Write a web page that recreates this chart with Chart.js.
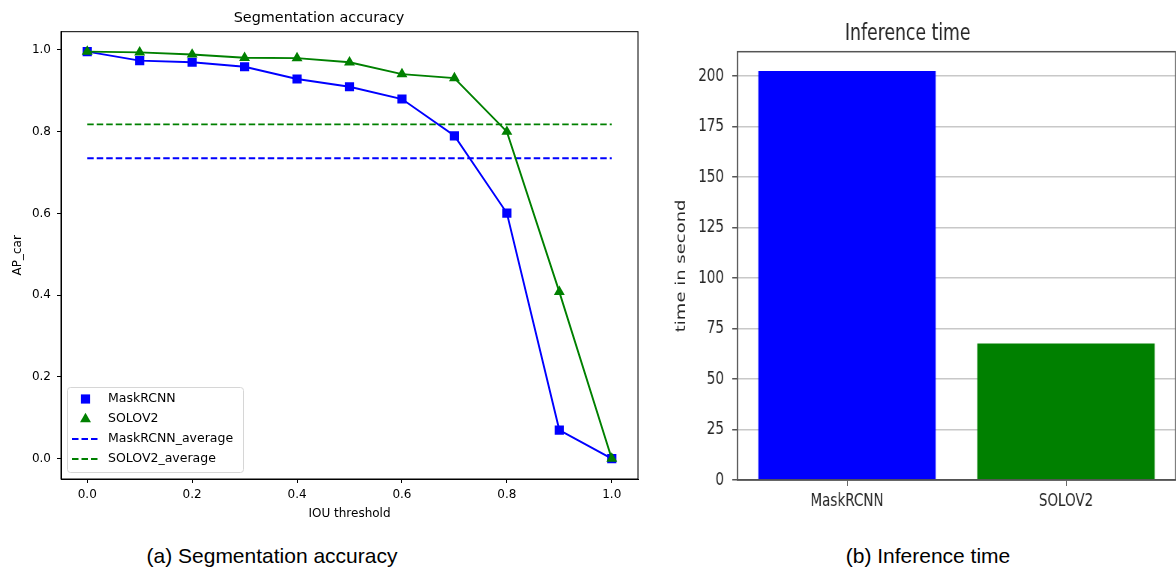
<!DOCTYPE html>
<html>
<head>
<meta charset="utf-8">
<script src="https://cdn.jsdelivr.net/npm/chart.js@4.4.0/dist/chart.umd.min.js"></script>
<style>
  html, body { margin: 0; padding: 0; background: #fff; overflow: hidden; }
  body { width: 1176px; height: 569px; position: relative; }
  #accWrap { position: absolute; left: 0; top: 0; }
  #timeWrap { position: absolute; left: 640px; top: 0; transform: scaleX(0.75); transform-origin: 0 0; }
  .caption {
    position: absolute; top: 544px; line-height: 24px;
    font-family: 'Liberation Sans', Arial, sans-serif; font-size: 21px; color: #000;
    transform: translateX(-50%); white-space: nowrap;
  }
</style>
</head>
<body>
<div id="accWrap"><canvas id="accChart" width="660" height="530"></canvas></div>
<div id="timeWrap"><canvas id="timeChart" width="730" height="530"></canvas></div>
<div class="caption" style="left:272px">(a) Segmentation accuracy</div>
<div class="caption" style="left:928px">(b) Inference time</div>
<script>
// Left chart data
const iouThresholds = [0.0, 0.1, 0.2, 0.3, 0.4, 0.5, 0.6, 0.7, 0.8, 0.9, 1.0];
const maskrcnnAP = [0.996, 0.974, 0.970, 0.959, 0.929, 0.910, 0.880, 0.790, 0.601, 0.070, 0.0];
const solov2AP = [0.996, 0.994, 0.989, 0.981, 0.980, 0.970, 0.941, 0.931, 0.800, 0.408, 0.0];
const maskrcnnAvg = 0.735;
const solov2Avg = 0.818;
const accTicks = [0.0, 0.2, 0.4, 0.6, 0.8, 1.0];

// Right chart data
const models = ['MaskRCNN', 'SOLOV2'];
const inferenceTime = [202.5, 67.6];
const timeTicks = [0, 25, 50, 75, 100, 125, 150, 175, 200];

const FONT = "'DejaVu Sans', sans-serif";

function pairs(xs, ys) {
  return xs.map((x, i) => ({ x: x, y: ys[i] }));
}

// box round the plot area
function framePlugin(color, width) {
  return {
    id: 'frame',
    afterDraw(chart) {
      const a = chart.chartArea, ctx = chart.ctx;
      ctx.save();
      ctx.strokeStyle = color;
      ctx.lineWidth = width;
      ctx.strokeRect(a.left, a.top, a.right - a.left, a.bottom - a.top);
      ctx.restore();
    }
  };
}

// matplotlib style legend inside the lower left corner
const accLegend = {
  id: 'accLegend',
  afterDraw(chart) {
    const ctx = chart.ctx, a = chart.chartArea;
    const x0 = a.left + 6, y0 = a.bottom - 92, w = 176, h = 85;
    ctx.save();
    ctx.fillStyle = 'rgba(255,255,255,0.8)';
    ctx.strokeStyle = '#d6d6d6';
    ctx.lineWidth = 1;
    ctx.beginPath();
    ctx.roundRect(x0 + 0.5, y0 + 0.5, w, h, 3);
    ctx.fill();
    ctx.stroke();
    chart.data.datasets.forEach((ds, i) => {
      const y = y0 + 12 + i * 20;
      if (ds.borderDash) {
        ctx.setLineDash(ds.borderDash);
        ctx.strokeStyle = ds.borderColor;
        ctx.lineWidth = ds.borderWidth;
        ctx.beginPath();
        ctx.moveTo(x0 + 5, y);
        ctx.lineTo(x0 + 32, y);
        ctx.stroke();
        ctx.setLineDash([]);
      } else {
        ctx.fillStyle = ds.pointBackgroundColor;
        Chart.helpers.drawPoint(ctx, { pointStyle: ds.pointStyle, radius: ds.pointRadius, rotation: 0, borderWidth: 0 }, x0 + 18.5, y);
      }
      ctx.fillStyle = '#000';
      ctx.font = '12.5px ' + FONT;
      ctx.textBaseline = 'middle';
      ctx.textAlign = 'left';
      ctx.fillText(ds.label, x0 + 41, y);
    });
    ctx.restore();
  }
};

new Chart(document.getElementById('accChart'), {
  type: 'line',
  data: {
    datasets: [
      {
        label: 'MaskRCNN',
        data: pairs(iouThresholds, maskrcnnAP),
        borderColor: '#0000ff', backgroundColor: '#0000ff',
        pointBackgroundColor: '#0000ff', pointBorderWidth: 0,
        borderWidth: 1.9, pointStyle: 'rect', pointRadius: 6.5,
        order: 1
      },
      {
        label: 'SOLOV2',
        data: pairs(iouThresholds, solov2AP),
        borderColor: '#008000', backgroundColor: '#008000',
        pointBackgroundColor: '#008000', pointBorderWidth: 0,
        borderWidth: 1.9, pointStyle: 'triangle', pointRadius: 6.3,
        order: 0
      },
      {
        label: 'MaskRCNN_average',
        data: [{ x: iouThresholds[0], y: maskrcnnAvg }, { x: iouThresholds[iouThresholds.length - 1], y: maskrcnnAvg }],
        borderColor: '#0000ff', borderWidth: 1.9, borderDash: [6.5, 3],
        pointRadius: 0, order: 2
      },
      {
        label: 'SOLOV2_average',
        data: [{ x: iouThresholds[0], y: solov2Avg }, { x: iouThresholds[iouThresholds.length - 1], y: solov2Avg }],
        borderColor: '#008000', borderWidth: 1.9, borderDash: [6.5, 3],
        pointRadius: 0, order: 3
      }
    ]
  },
  options: {
    responsive: false,
    animation: false,
    layout: { padding: { right: 22 } },
    plugins: {
      legend: { display: false },
      tooltip: { enabled: false },
      title: {
        display: true, text: 'Segmentation accuracy', color: '#000',
        font: { family: FONT, size: 14.4, weight: 'normal' },
        padding: { top: 10, bottom: 4.4 }
      }
    },
    scales: {
      x: {
        type: 'linear', min: -0.05, max: 1.05,
        afterBuildTicks: s => { s.ticks = accTicks.map(v => ({ value: v })); },
        afterFit: s => { s.height = 51; },
        grid: { drawOnChartArea: false, color: '#000', tickLength: 4 },
        border: { color: '#000' },
        ticks: { color: '#000', font: { family: FONT, size: 12 }, padding: 5, callback: v => v.toFixed(1) },
        title: { display: true, text: 'IOU threshold', color: '#000', font: { family: FONT, size: 12 }, padding: { bottom: 8.5 } }
      },
      y: {
        min: -0.04975, max: 1.04475,
        afterBuildTicks: s => { s.ticks = accTicks.map(v => ({ value: v })); },
        afterFit: s => { s.width = 61; },
        grid: { drawOnChartArea: false, color: '#000', tickLength: 4 },
        border: { color: '#000' },
        ticks: { color: '#000', font: { family: FONT, size: 12 }, padding: 6, callback: v => v.toFixed(1) },
        title: { display: true, text: 'AP_car', color: '#000', font: { family: FONT, size: 12 }, padding: { top: 11 } }
      }
    }
  },
  plugins: [framePlugin('#000', 1), accLegend]
});

new Chart(document.getElementById('timeChart'), {
  type: 'bar',
  data: {
    labels: models,
    datasets: [{
      data: inferenceTime,
      backgroundColor: ['#0000ff', '#008000'],
      borderWidth: 0,
      barPercentage: 0.81,
      categoryPercentage: 1
    }]
  },
  options: {
    responsive: false,
    animation: false,
    layout: { padding: { right: 16 } },
    plugins: {
      legend: { display: false },
      tooltip: { enabled: false },
      title: {
        display: true, text: 'Inference time', color: '#262626',
        font: { family: FONT, size: 23, weight: 'normal' },
        padding: { top: 20, bottom: 4.1 }
      }
    },
    scales: {
      x: {
        afterFit: s => { s.height = 50; },
        grid: { offset: false, drawOnChartArea: false, color: '#555', tickLength: 6 },
        border: { color: '#555', width: 1.5 },
        ticks: { color: '#262626', font: { family: FONT, size: 18 }, padding: 5 }
      },
      y: {
        z: 1,
        min: 0, max: 212,
        afterBuildTicks: s => { s.ticks = timeTicks.map(v => ({ value: v })); },
        afterFit: s => { s.width = 130; },
        grid: { color: '#c8c8c8', lineWidth: 1.5, tickColor: '#555', tickLength: 7 },
        border: { color: '#555', width: 1.5 },
        ticks: { color: '#262626', font: { family: FONT, size: 18 }, padding: 11 },
        title: { display: true, text: 'time in second', color: '#262626', font: { family: FONT, size: 18 }, padding: { top: 45 } }
      }
    }
  },
  plugins: [framePlugin('#555', 1.5)]
});
</script>
</body>
</html>
